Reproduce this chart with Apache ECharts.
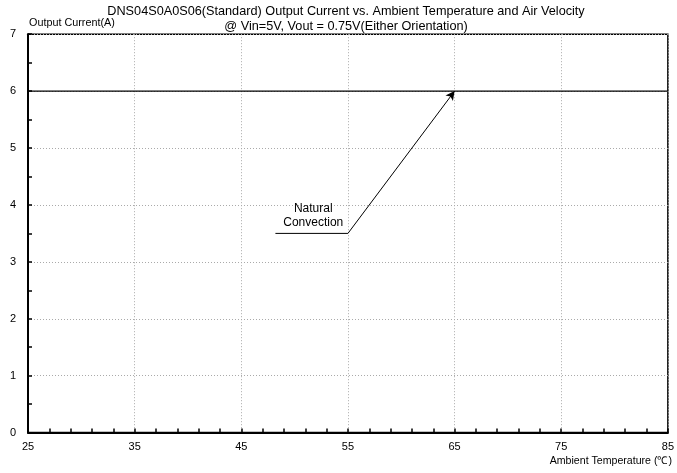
<!DOCTYPE html>
<html><head><meta charset="utf-8">
<script src="https://cdn.jsdelivr.net/npm/echarts@6/dist/echarts.min.js"></script>
<style>html,body{margin:0;padding:0;background:#fff}#c{width:677px;height:473px}</style>
</head><body><div id="c"></div>
<script>
const titleLines = ['DNS04S0A0S06(Standard) Output Current vs. Ambient Temperature and Air Velocity', '@ Vin=5V, Vout = 0.75V(Either Orientation)'];
const yName = 'Output Current(A)';
const xName = 'Ambient Temperature (℃)';
const temps = [25, 85];
const currentNatural = [6, 6];
const annotationText = 'Natural\nConvection';
const annotationLeader = [[48.2, 3.5], [55, 3.5]];
const annotationArrow = [[55, 3.5], [65, 6]];
const annotationLabelPos = [51.75, 3.81];

const font = 'Liberation Sans, Arial, sans-serif';
const chart = echarts.init(document.getElementById('c'), null, {renderer: 'canvas'});
chart.setOption({
  animation: false,
  backgroundColor: '#fff',
  graphic: [
    {type: 'text', x: 346, y: 11, z: 100, style: {text: titleLines[0], align: 'center', verticalAlign: 'middle', font: '12.7px ' + font, fill: '#000'}},
    {type: 'text', x: 346, y: 26, z: 100, style: {text: titleLines[1], align: 'center', verticalAlign: 'middle', font: '12.7px ' + font, fill: '#000'}},
    {type: 'text', x: 29, y: 23.5, z: 100, style: {text: yName, align: 'left', verticalAlign: 'middle', font: '10.8px ' + font, fill: '#000'}},
    {type: 'text', x: 672, y: 461.5, z: 100, style: {text: xName, align: 'right', verticalAlign: 'middle', font: '10.6px ' + font, fill: '#000'}}
  ],
  grid: {left: 28, right: 5, top: 34.2, bottom: 40.4, show: true, borderColor: '#000', borderWidth: 1.5},
  xAxis: {
    type: 'value', min: 25, max: 85, interval: 10,
    axisLine: {show: true, lineStyle: {color: '#000', width: 2}},
    axisTick: {show: true, inside: true, length: 4, lineStyle: {color: '#000', width: 1.5}},
    minorTick: {show: true, splitNumber: 5, length: 4, lineStyle: {color: '#000', width: 1.5}},
    axisLabel: {color: '#000', fontFamily: font, fontSize: 11, margin: 9},
    splitLine: {show: true, lineStyle: {color: '#aaa', type: [1, 2], width: 1}}
  },
  yAxis: {
    type: 'value', min: 0, max: 7, interval: 1,
    axisLine: {show: true, lineStyle: {color: '#000', width: 2}},
    axisTick: {show: true, inside: true, length: 4, lineStyle: {color: '#000', width: 1.5}},
    minorTick: {show: true, splitNumber: 2, length: 4, lineStyle: {color: '#000', width: 1.5}},
    axisLabel: {color: '#000', fontFamily: font, fontSize: 11, margin: 12},
    splitLine: {show: true, lineStyle: {color: '#aaa', type: [1, 2], width: 1}}
  },
  series: [
    {
      type: 'line', data: temps.map((t, i) => [t, currentNatural[i]]),
      symbol: 'none', lineStyle: {color: '#000', width: 1.2}, z: 5
    },
    {
      type: 'line', data: annotationLeader, symbol: 'none',
      lineStyle: {color: '#000', width: 1}, z: 6
    },
    {
      type: 'line', data: [], symbol: 'none',
      markLine: {
        silent: true, symbol: ['none', 'arrow'], symbolSize: [7, 9],
        lineStyle: {color: '#000', width: 1, type: 'solid'},
        label: {show: false},
        data: [[{coord: annotationArrow[0]}, {coord: annotationArrow[1]}]]
      }
    },
    {
      type: 'scatter', data: [annotationLabelPos], symbolSize: 1, silent: true,
      itemStyle: {color: 'rgba(0,0,0,0)', opacity: 1},
      label: {show: true, position: 'inside', formatter: annotationText, color: '#000', opacity: 1, fontFamily: font, fontSize: 12, lineHeight: 14, align: 'center'}
    }
  ]
});
</script></body></html>
